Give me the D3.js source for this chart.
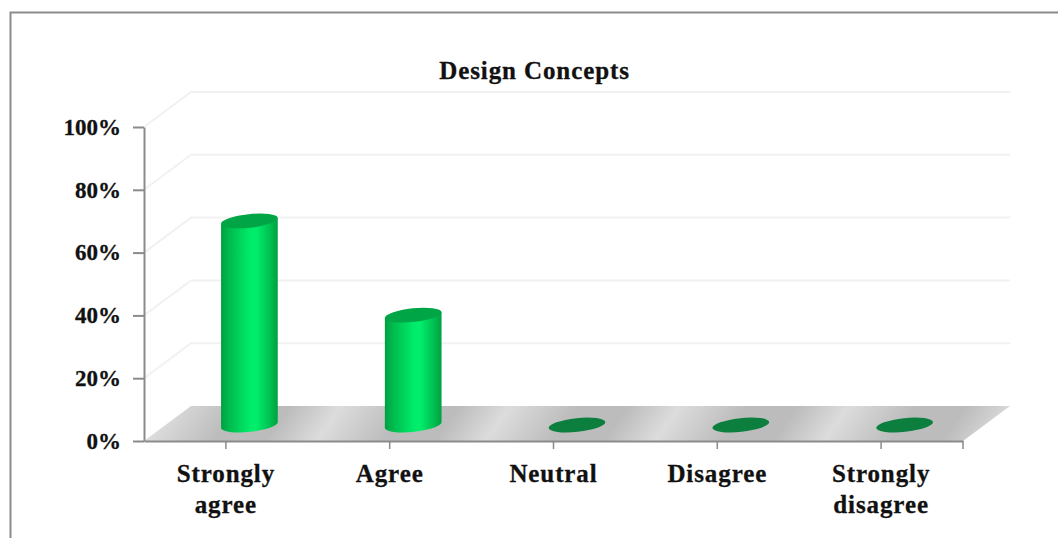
<!DOCTYPE html>
<html>
<head>
<meta charset="utf-8">
<style>
  html, body { margin: 0; padding: 0; background: #fff; }
  svg { display: block; }
  text { font-family: "Liberation Serif", serif; font-weight: bold; fill: #111; stroke: #111; stroke-width: 0.3px; }
</style>
<script src="https://cdn.jsdelivr.net/npm/d3@7/dist/d3.min.js"></script>
</head>
<body>
<svg id="chart" width="1058" height="538"></svg>
<script>
// Survey responses for the design concepts question
const categories = ["Strongly agree", "Agree", "Neutral", "Disagree", "Strongly disagree"];
const categoryLines = [["Strongly", "agree"], ["Agree"], ["Neutral"], ["Disagree"], ["Strongly", "disagree"]];
const values = [65, 35, 0, 0, 0];
const yTicks = [0, 20, 40, 60, 80, 100];
const chartTitle = "Design Concepts";

const svg = d3.select("#chart");
const axisColor = "#8b8b8b";
const depth = { x: 47, y: -35 };           // offset of the back wall from the front plane
const radius = { x: 28.5, y: 6.8, tilt: -6 };
const seatDrop = 1.5;                      // cylinders sit slightly forward of mid-floor

const x = d3.scaleBand().domain(categories).range([144, 963]);
const y = d3.scaleLinear().domain([0, 100]).range([441, 127]);

// Gradients: floor sheen, cylinder shading
const defs = svg.append("defs");
const floorGrad = defs.append("linearGradient")
  .attr("id", "floorSheen")
  .attr("gradientUnits", "userSpaceOnUse")
  .attr("spreadMethod", "repeat")
  .attr("x1", 147).attr("y1", 441)
  .attr("x2", 147 + 112).attr("y2", 441 + 80);
[[0, "#dcdcdc"], [0.4, "#bcbcbc"], [0.7, "#bcbcbc"], [1, "#dcdcdc"]]
  .forEach(([o, c]) => floorGrad.append("stop").attr("offset", o).attr("stop-color", c));

const barGrad = defs.append("linearGradient").attr("id", "barShade");
[[0, "#00a041"], [0.14, "#00ba4d"], [0.5, "#00ea69"], [0.62, "#00ee6b"], [0.86, "#00c052"], [1, "#00a041"]]
  .forEach(([o, c]) => barGrad.append("stop").attr("offset", o).attr("stop-color", c));

// Outer frame, open on the right and at the bottom
svg.append("path")
  .attr("d", d3.line()([[10.5, 538], [10.5, 12.5], [1058, 12.5]]))
  .attr("fill", "none").attr("stroke", axisColor).attr("stroke-width", 2);

// Back wall gridlines with their side-wall returns
svg.append("g").selectAll("path").data(yTicks.filter(t => t > 0)).join("path")
  .attr("d", t => d3.line()([[x.range()[0], y(t)], [x.range()[0] + depth.x, y(t) + depth.y], [1010, y(t) + depth.y]]))
  .attr("fill", "none").attr("stroke", "#f1f1f1").attr("stroke-width", 2);

// Floor
svg.append("path")
  .attr("d", d3.line()([
    [x.range()[0], y(0)], [x.range()[1], y(0)],
    [x.range()[1] + depth.x, y(0) + depth.y], [x.range()[0] + depth.x, y(0) + depth.y]
  ]) + "Z")
  .attr("fill", "url(#floorSheen)");

// Point on a tilted ellipse's major axis, used to close the cylinder outline
const rad = radius.tilt * Math.PI / 180;
const edge = (cx, cy, side) => [cx + side * radius.x * Math.cos(rad), cy + side * radius.x * Math.sin(rad)];

const centerX = d => x(d.category) + x.bandwidth() / 2 + depth.x / 2;
const baseY = y(0) + depth.y / 2 + seatDrop;
const topY = d => y(d.value) + depth.y / 2 + seatDrop;

const rows = categories.map((category, i) => ({ category, value: values[i] }));

// Cylinder bodies
svg.append("g").selectAll("path").data(rows.filter(d => d.value > 0)).join("path")
  .attr("d", d => {
    const cx = centerX(d);
    const [lx, lb] = edge(cx, baseY, -1), [rx, rb] = edge(cx, baseY, 1);
    const [, lt] = edge(cx, topY(d), -1), [, rt] = edge(cx, topY(d), 1);
    return `M${lx},${lt}L${lx},${lb}A${radius.x},${radius.y} ${radius.tilt} 0 0 ${rx},${rb}L${rx},${rt}Z`;
  })
  .attr("fill", "url(#barShade)");

// Cylinder caps; zero values leave only a flat disc on the floor
svg.append("g").selectAll("ellipse").data(rows).join("ellipse")
  .attr("rx", radius.x).attr("ry", radius.y)
  .attr("transform", d => `translate(${centerX(d)},${topY(d)}) rotate(${radius.tilt})`)
  .attr("fill", d => d.value > 0 ? "#00a545" : "#0c7f3e");

// Axes
const yAxis = svg.append("g")
  .attr("transform", `translate(${x.range()[0]},0)`)
  .call(d3.axisLeft(y).tickValues(yTicks).tickFormat(d => d + "%").tickSizeInner(11).tickSizeOuter(0).tickPadding(12));
yAxis.selectAll("text").attr("font-size", 23).attr("dy", "0.32em");

const xAxis = svg.append("g")
  .attr("transform", `translate(0,${y(0)})`)
  .call(d3.axisBottom(x).tickSizeInner(8).tickSizeOuter(0).tickFormat(""));
xAxis.selectAll("text").remove();
xAxis.append("line").attr("class", "end-tick")
  .attr("x1", x.range()[1]).attr("x2", x.range()[1]).attr("y1", 0).attr("y2", 8);

svg.selectAll(".domain, .tick line, .end-tick")
  .attr("stroke", axisColor).attr("stroke-width", 2);
xAxis.selectAll(".tick line, .end-tick").attr("stroke-width", 1.5);

// Category labels, one text element per category with a tspan per line
svg.append("g").selectAll("text").data(categories).join("text")
  .attr("text-anchor", "middle")
  .attr("font-size", 25)
  .style("letter-spacing", "0.9px")
  .each(function (c, i) {
    d3.select(this).selectAll("tspan").data(categoryLines[i]).join("tspan")
      .attr("x", x(c) + x.bandwidth() / 2)
      .attr("y", (d, j) => 482 + j * 31)
      .text(d => d);
  });

// Title
svg.append("text")
  .attr("x", 534.5).attr("y", 78.5)
  .attr("text-anchor", "middle")
  .attr("font-size", 25)
  .style("letter-spacing", "0.9px")
  .text(chartTitle);
</script>
</body>
</html>
